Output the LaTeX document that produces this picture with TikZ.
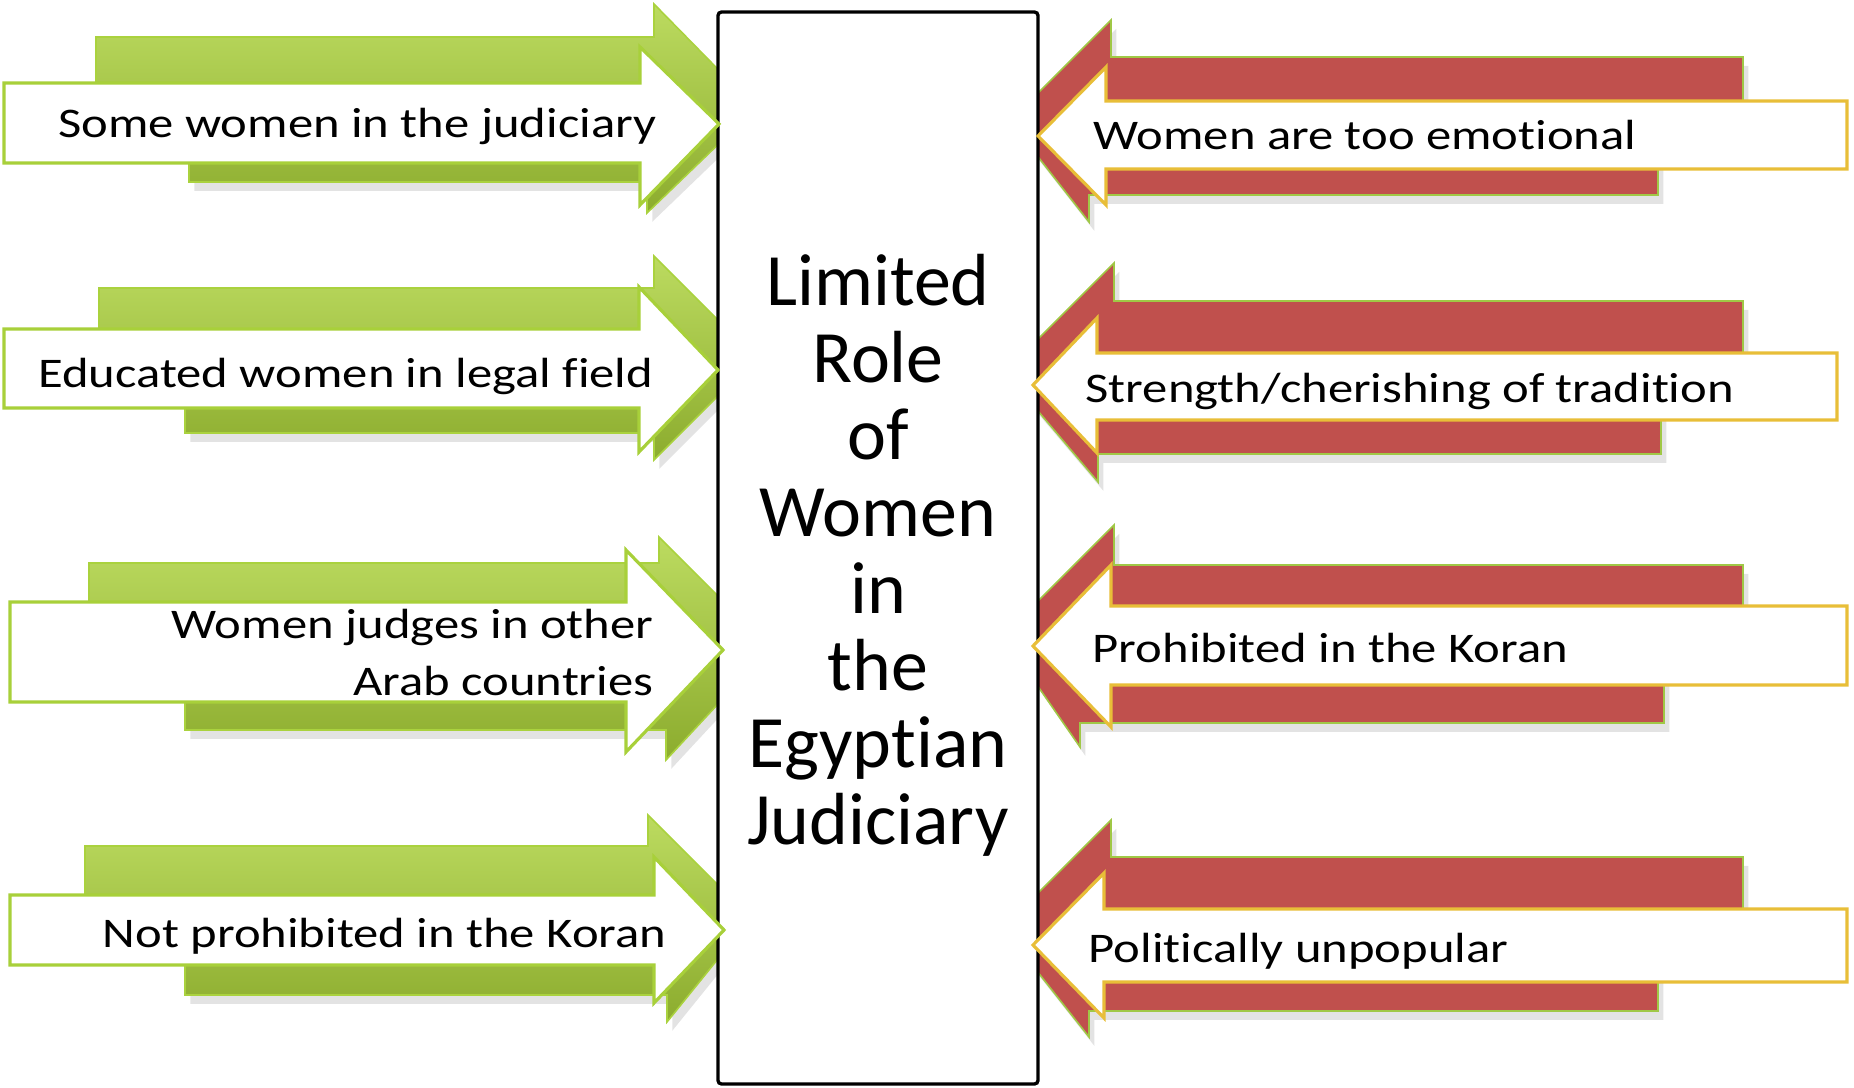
\documentclass[tikz,border=0pt]{standalone}
\usepackage{fontspec}
\setmainfont{Carlito}[Ligatures=NoCommon, Contextuals=NoAlternate, RawFeature={-liga;-clig}]
\newfontfamily\labelfont{Carlito}[FakeStretch=1.2, Ligatures=NoCommon, Contextuals=NoAlternate, RawFeature={-liga;-clig}]
\usetikzlibrary{shadows}

\begin{document}
\begin{tikzpicture}[x=0.01cm, y=-0.01cm,
    back/.style={line width=0.45pt, line join=miter,
                 drop shadow={opacity=0.22, shadow xshift=1.5pt, shadow yshift=-2.5pt}},
    backgreen/.style={back, top color={rgb,255: red,188; green,219; blue,96},
                      bottom color={rgb,255: red,140; green,172; blue,46},
                      draw={rgb,255: red,170; green,210; blue,62}},
    backred/.style={back, fill={rgb,255: red,192; green,80; blue,77},
                    draw={rgb,255: red,160; green,200; blue,70}},
    front/.style={fill=white, line width=0.9pt, line join=miter},
    frontgreen/.style={front, draw={rgb,255: red,168; green,208; blue,58}},
    frontgold/.style={front, draw={rgb,255: red,232; green,190; blue,56}},
    leftlabel/.style={font=\labelfont\fontsize{12}{16.2}\selectfont, anchor=base east,
                      inner sep=0pt, align=right},
    rightlabel/.style={font=\labelfont\fontsize{12}{16.2}\selectfont, anchor=base west,
                       inner sep=0pt},
    centerword/.style={font=\fontsize{21}{21}\selectfont, anchor=base, inner sep=0pt}
]
\useasboundingbox (0,0) rectangle (1854,1088);

\shadedraw [backgreen] (96,37) -- (654,37) -- (654,4) -- (756,108) -- (647,213) -- (647,182)
    -- (189,182) -- (189,123) -- (96,123) -- cycle;
\shadedraw [backgreen] (99,288) -- (654,288) -- (654,256) -- (756,358) -- (654,460) -- (654,433)
    -- (185,433) -- (185,370) -- (99,370) -- cycle;
\shadedraw [backgreen] (89,563) -- (659,563) -- (659,537) -- (770,648) -- (666,760) -- (666,730)
    -- (185,730) -- (185,650) -- (89,650) -- cycle;
\shadedraw [backgreen] (85,846) -- (648,846) -- (648,815) -- (751,918) -- (667,1022) -- (667,995)
    -- (185,995) -- (185,930) -- (85,930) -- cycle;

\filldraw [backred] (1111,20) -- (1010,121) -- (1089,222) -- (1089,195) -- (1658,195)
    -- (1658,135) -- (1743,135) -- (1743,57) -- (1111,57) -- cycle;
\filldraw [backred] (1114,263) -- (1005,372) -- (1098,482) -- (1098,454) -- (1661,454)
    -- (1661,385) -- (1743,385) -- (1743,301) -- (1114,301) -- cycle;
\filldraw [backred] (1114,525) -- (1003,636) -- (1080,747) -- (1080,723) -- (1664,723)
    -- (1664,645) -- (1743,645) -- (1743,565) -- (1114,565) -- cycle;
\filldraw [backred] (1111,820) -- (1003,928) -- (1089,1037) -- (1089,1011) -- (1658,1011)
    -- (1658,945) -- (1743,945) -- (1743,857) -- (1111,857) -- cycle;

\draw [fill=white, line width=0.95pt, rounded corners=1pt] (718,12) rectangle (1038,1084);

\filldraw [frontgreen] (4,83) -- (640,83) -- (640,47) -- (719,124) -- (640,205) -- (640,163) -- (4,163) -- cycle;
\filldraw [frontgreen] (4,329) -- (639,329) -- (639,287) -- (718,370) -- (639,452) -- (639,408) -- (4,408) -- cycle;
\filldraw [frontgreen] (10,602) -- (626,602) -- (626,550) -- (723,650) -- (626,752) -- (626,702) -- (10,702) -- cycle;
\filldraw [frontgreen] (10,895) -- (654,895) -- (654,857) -- (724,930) -- (654,1003) -- (654,965) -- (10,965) -- cycle;

\filldraw [frontgold] (1038,136) -- (1106,67) -- (1106,101) -- (1847,101) -- (1847,169) -- (1106,169) -- (1106,205) -- cycle;
\filldraw [frontgold] (1033,385) -- (1097,318) -- (1097,353) -- (1837,353) -- (1837,420) -- (1097,420) -- (1097,453) -- cycle;
\filldraw [frontgold] (1033,646) -- (1111,565) -- (1111,606) -- (1847,606) -- (1847,685) -- (1111,685) -- (1111,727) -- cycle;
\filldraw [frontgold] (1033,945) -- (1104,873) -- (1104,909) -- (1847,909) -- (1847,982) -- (1104,982) -- (1104,1018) -- cycle;

\node (some) [leftlabel] at (657,138) {Some women in the judiciary};
\node (educated) [leftlabel] at (654,387) {Educated women in legal field};
\node (arab) [leftlabel] at (654,695) {Women judges in other\\Arab countries};
\node (notprohibited) [leftlabel] at (667,947) {Not prohibited in the Koran};

\node (emotional) [rightlabel] at (1093,150) {Women are too emotional};
\node (tradition) [rightlabel] at (1085,402) {Strength/cherishing of tradition};
\node (prohibited) [rightlabel] at (1092,662) {Prohibited in the Koran};
\node (unpopular) [rightlabel] at (1088,962) {Politically unpopular};

\foreach \word [count=\i] in {Limited,Role,of,Women,in,the,Egyptian,Judiciary}
    \node (title\i) [centerword] at (878,{228+77*\i}) {\word};
\end{tikzpicture}
\end{document}
